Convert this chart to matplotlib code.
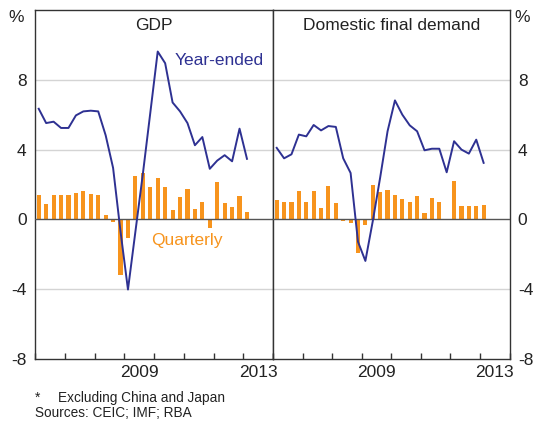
import matplotlib
matplotlib.use("Agg")
import matplotlib.pyplot as plt
import numpy as np
import pandas as pd

plt.rcParams['font.family'] = ['Liberation Sans', 'DejaVu Sans']

# ---- data ----
quarters = pd.period_range('2006Q1', '2013Q1', freq='Q')
gdp_quarterly = [1.39, 0.88, 1.39, 1.39, 1.39, 1.54, 1.62, 1.43, 1.39, 0.25, -0.13, -3.18, -1.05,
                 2.50, 2.68, 1.83, 2.40, 1.86, 0.53, 1.30, 1.73, 0.59, 0.99, -0.48, 2.13, 0.93,
                 0.72, 1.35, 0.42]
gdp_year_ended = [6.34, 5.52, 5.60, 5.24, 5.24, 5.96, 6.19, 6.23, 6.19, 4.82, 2.95, -0.70, -4.02,
                  -0.70, 2.60, 6.10, 9.62, 8.95, 6.70, 6.19, 5.52, 4.25, 4.72, 2.90, 3.37, 3.68,
                  3.33, 5.20, 3.47]
dfd_quarterly = [1.10, 0.99, 0.99, 1.62, 0.99, 1.62, 0.65, 1.90, 0.93, -0.08, -0.19, -1.90, -0.32,
                 1.96, 1.58, 1.68, 1.39, 1.16, 0.99, 1.33, 0.36, 1.22, 0.99, 0.00, 2.19, 0.76,
                 0.76, 0.76, 0.82]
dfd_year_ended = [4.10, 3.50, 3.73, 4.86, 4.76, 5.41, 5.10, 5.35, 5.30, 3.50, 2.66, -1.28, -2.38,
                  -0.10, 2.40, 5.05, 6.82, 6.00, 5.39, 5.05, 3.96, 4.05, 4.05, 2.70, 4.48, 4.00,
                  3.77, 4.57, 3.24]
panel_titles = ['GDP', 'Domestic final demand']
y_ticks = [-8, -4, 0, 4, 8]
x_labels = ['2009', '2013']

NAVY = '#2E3192'
ORANGE = '#F7941D'
GRID = '#D4D4D4'
AXC = '#333333'
TXT = '#222222'
FS = 12.5

x = np.array([q.year + (q.quarter - 0.5) / 4 for q in quarters])

fig = plt.figure(figsize=(5.39, 4.23), dpi=100)
W, H = 539, 423
axL = fig.add_axes([35 / W, (H - 359) / H, 238 / W, 349 / H])
axR = fig.add_axes([273 / W, (H - 359) / H, 236.5 / W, 349 / H])

for ax, title, qv, yv, side in [(axL, panel_titles[0], gdp_quarterly, gdp_year_ended, 'left'),
                                (axR, panel_titles[1], dfd_quarterly, dfd_year_ended, 'right')]:
    ax.set_xlim(2006, 2014)
    ax.set_ylim(-8, 12)
    for g in [-4, 4, 8]:
        ax.axhline(g, color=GRID, lw=1.0, zorder=0)
    ax.bar(x, qv, width=0.14, color=ORANGE, zorder=2)
    ax.axhline(0, color='#555555', lw=1.0, zorder=3)
    ax.plot(x, yv, color=NAVY, lw=1.4, zorder=4)
    ax.set_yticks(y_ticks)
    ax.set_yticklabels([str(t) for t in y_ticks])
    ax.tick_params(axis='y', length=0, labelsize=FS, pad=6, labelcolor=TXT,
                   left=(side == 'left'), labelleft=(side == 'left'),
                   right=(side == 'right'), labelright=(side == 'right'))
    ax.set_xticks(np.arange(2006, 2015))
    ax.set_xticklabels([])
    ax.set_xticks([int(l) + 0.5 for l in x_labels], minor=True)
    ax.set_xticklabels(x_labels, minor=True)
    ax.tick_params(axis='x', which='major', direction='in', length=4.5, width=1, color=AXC)
    ax.tick_params(axis='x', which='minor', length=0, labelsize=FS, pad=4, labelcolor=TXT)
    for s in ax.spines.values():
        s.set_color(AXC)
        s.set_linewidth(1.0)
    ax.text(0.5, 0.978, title, transform=ax.transAxes, ha='center', va='top', fontsize=FS,
            color=TXT)

axL.text(2010.7, 9.1, 'Year-ended', color=NAVY, fontsize=FS, ha='left', va='center')
axL.text(2009.9, -1.2, 'Quarterly', color=ORANGE, fontsize=FS, ha='left', va='center')

fig.text(16 / W, 1 - 18 / H, '%', fontsize=FS, ha='center', va='center', color=TXT)
fig.text(522 / W, 1 - 18 / H, '%', fontsize=FS, ha='center', va='center', color=TXT)

fig.text(35 / W, 1 - 398 / H, '*', fontsize=10, ha='left', va='center', color=TXT)
fig.text(58 / W, 1 - 398 / H, 'Excluding China and Japan', fontsize=9.8, ha='left', va='center',
         color=TXT)
fig.text(35 / W, 1 - 413 / H, 'Sources: CEIC; IMF; RBA', fontsize=9.8, ha='left', va='center',
         color=TXT)

fig.savefig('out.png', dpi=100)
